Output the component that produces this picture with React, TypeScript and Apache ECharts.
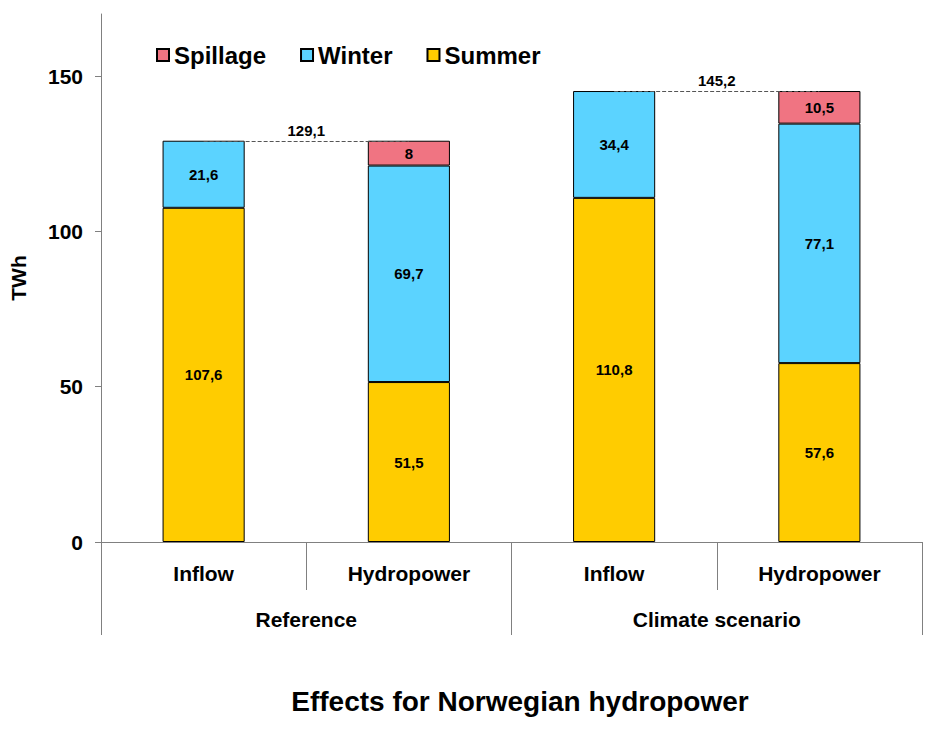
import React, { useEffect, useRef } from "react";
import * as echarts from "echarts";

const categories = ["Inflow", "Hydropower", "Inflow", "Hydropower"];
const groups = ["Reference", "Climate scenario"];
const summer = [107.6, 51.5, 110.8, 57.6];
const winter = [21.6, 69.7, 34.4, 77.1];
const spillage: (number | null)[] = [null, 8, null, 10.5];
const totals = [129.1, 145.2];
const yTicks = [0, 50, 100, 150];

const FONT = "'Liberation Sans', Arial, sans-serif";
const fmt = (v: number) => String(v).replace(".", ",");

export default function App() {
  const ref = useRef<HTMLDivElement>(null);
  useEffect(() => {
    if (!ref.current) return;
    const chart = echarts.init(ref.current, null, { renderer: "svg" });
    const labelStyle = {
      show: true,
      position: "inside" as const,
      fontFamily: FONT,
      fontWeight: "bold" as const,
      fontSize: 15,
      color: "#000",
      formatter: (p: any) => (p.value == null ? "" : fmt(p.value)),
    };
    const itemStyle = (color: string) => ({ color, borderColor: "#000", borderWidth: 1 });
    chart.setOption({
      animation: false,
      textStyle: { fontFamily: FONT },
      grid: { left: 100, right: 13, top: 14, bottom: 193, containLabel: false },
      legend: {
        data: ["Spillage", "Winter", "Summer"],
        left: 151,
        top: 38,
        itemWidth: 12,
        itemHeight: 12,
        itemGap: 34,
        icon: "rect",
        textStyle: { fontFamily: FONT, fontWeight: "bold", fontSize: 24, color: "#000" },
      },
      title: {
        text: "Effects for Norwegian hydropower",
        left: 515,
        top: 682,
        textAlign: "center",
        textStyle: { fontFamily: FONT, fontWeight: "bold", fontSize: 28, color: "#000" },
      },
      xAxis: [
        {
          type: "category",
          data: categories,
          position: "bottom",
          axisLine: { show: true, lineStyle: { color: "#808080", width: 1 } },
          axisTick: { show: true, interval: 0, length: 48, lineStyle: { color: "#808080" } },
          axisLabel: {
            interval: 0,
            margin: 21,
            fontFamily: FONT,
            fontWeight: "bold",
            fontSize: 21,
            color: "#000",
          },
        },
        {
          type: "category",
          data: groups,
          position: "bottom",
          axisLine: { show: false },
          axisTick: { show: true, interval: 0, length: 93, lineStyle: { color: "#808080" } },
          axisLabel: {
            interval: 0,
            margin: 67,
            fontFamily: FONT,
            fontWeight: "bold",
            fontSize: 21,
            color: "#000",
          },
        },
      ],
      yAxis: {
        type: "value",
        min: 0,
        max: 170,
        interval: 50,
        name: "TWh",
        nameLocation: "middle",
        nameRotate: 90,
        nameGap: 72,
        nameTextStyle: { fontFamily: FONT, fontWeight: "bold", fontSize: 21, color: "#000" },
        axisLine: { show: true, lineStyle: { color: "#808080", width: 1 } },
        axisTick: { show: true, length: 6, customValues: yTicks, lineStyle: { color: "#808080" } },
        axisLabel: {
          customValues: yTicks,
          margin: 18,
          fontFamily: FONT,
          fontWeight: "bold",
          fontSize: 21,
          color: "#000",
        },
        splitLine: { show: false },
      },
      series: [
        {
          name: "Summer",
          type: "bar",
          stack: "total",
          barWidth: "40%",
          data: summer,
          itemStyle: itemStyle("#FFCC00"),
          label: labelStyle,
        },
        {
          name: "Winter",
          type: "bar",
          stack: "total",
          barWidth: "40%",
          data: winter,
          itemStyle: itemStyle("#5BD3FF"),
          label: labelStyle,
        },
        {
          name: "Spillage",
          type: "bar",
          stack: "total",
          barWidth: "40%",
          data: spillage,
          itemStyle: itemStyle("#F07482"),
          label: labelStyle,
          markLine: {
            silent: true,
            symbol: ["none", "none"],
            lineStyle: { type: "dashed", color: "#555", width: 1 },
            label: {
              show: true,
              position: "insideMiddleTop",
              distance: 3,
              fontFamily: FONT,
              fontWeight: "bold",
              fontSize: 15,
              color: "#000",
              formatter: "{b}",
            },
            data: totals.map((t, i) => [
              { name: fmt(t), coord: [i * 2, t] },
              { coord: [i * 2 + 1, t] },
            ]),
          },
        },
      ],
    });
    return () => chart.dispose();
  }, []);
  return (
    <div
      ref={ref}
      style={{ position: "absolute", left: 0, top: 0, width: 935, height: 735 }}
    />
  );
}
